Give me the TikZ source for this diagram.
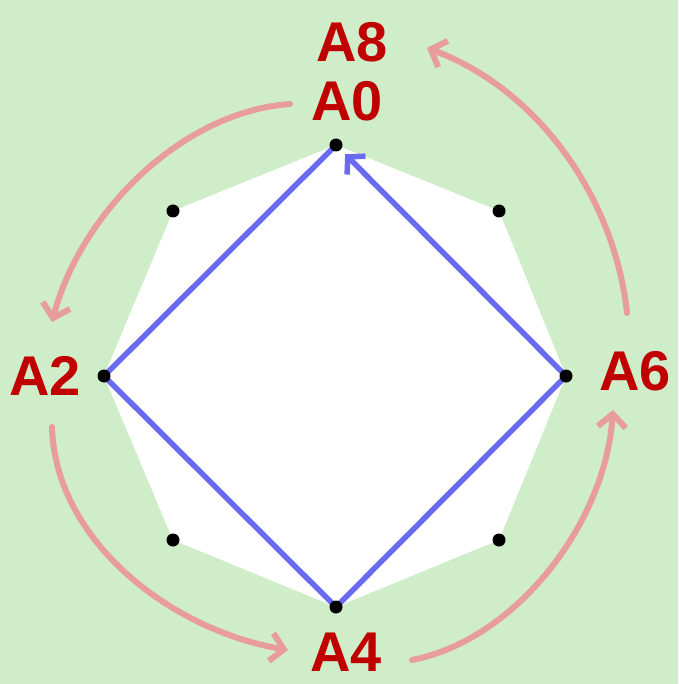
\documentclass[tikz,border=0pt]{standalone}
\usepackage{fontspec}
\setmainfont{Liberation Sans}
\usetikzlibrary{arrows.meta}
\definecolor{bgg}{HTML}{CFEDC8}
\definecolor{pinkarc}{HTML}{E89C9C}
\definecolor{bluesq}{HTML}{6A6AF0}
\definecolor{lblred}{HTML}{C00000}
\tikzset{
  vdot/.style={circle,fill=black,inner sep=0pt,minimum size=13pt},
  lbl/.style={text=lblred,font=\fontsize{56}{56}\selectfont\bfseries,anchor=base,inner sep=0pt},
  arcline/.style={draw=pinkarc,line width=6pt,line cap=round,-{Straight Barb[length=13pt,width=28pt,line width=6pt]}},
  sqline/.style={draw=bluesq,line width=5.5pt,line join=round}
}
\begin{document}
\begin{tikzpicture}[x=1pt,y=-1pt]
\fill[bgg] (0,0) rectangle (678,684);
\useasboundingbox (0,0) rectangle (678,684);
% vertices
\coordinate (T) at (336,145);
\coordinate (TL) at (173,211);
\coordinate (L) at (104,376);
\coordinate (BL) at (173,540);
\coordinate (B) at (336,607);
\coordinate (BR) at (499,540);
\coordinate (R) at (566,376);
\coordinate (TR) at (499,211);
\fill[white] (T) -- (TL) -- (L) -- (BL) -- (B) -- (BR) -- (R) -- (TR) -- cycle;
% blue square
\draw[sqline] (R) -- (B) -- (L) -- (T);
\draw[sqline,-{Straight Barb[length=12pt,width=26pt,line width=5.5pt]},shorten >=13pt] (R) -- (T);
% dots
\foreach \v in {T,TL,L,BL,B,BR,R,TR} \node[vdot] (d\v) at (\v) {};
% labels
\node[lbl] (A8) at (352,62) {A8};
\node[lbl] (A0) at (347,121) {A0};
\node[lbl] (A2) at (45,395) {A2};
\node[lbl] (A6) at (635,390) {A6};
\node[lbl] (A4) at (346,671) {A4};
% arcs
\coordinate (s1) at (290,104); \coordinate (e1) at (52,322);
\coordinate (s2) at (52,427);  \coordinate (e2) at (288,650);
\coordinate (s3) at (412,660); \coordinate (e3) at (613,410);
\coordinate (s4) at (627,313); \coordinate (e4) at (427,48);
\draw[arcline] (s1) .. controls (180,112) and (80,215) .. (e1);
\draw[arcline] (s2) .. controls (55,540) and (170,630) .. (e2);
\draw[arcline] (s3) .. controls (515,640) and (605,525) .. (e3);
\draw[arcline] (s4) .. controls (615,200) and (540,90) .. (e4);
\end{tikzpicture}
\end{document}
